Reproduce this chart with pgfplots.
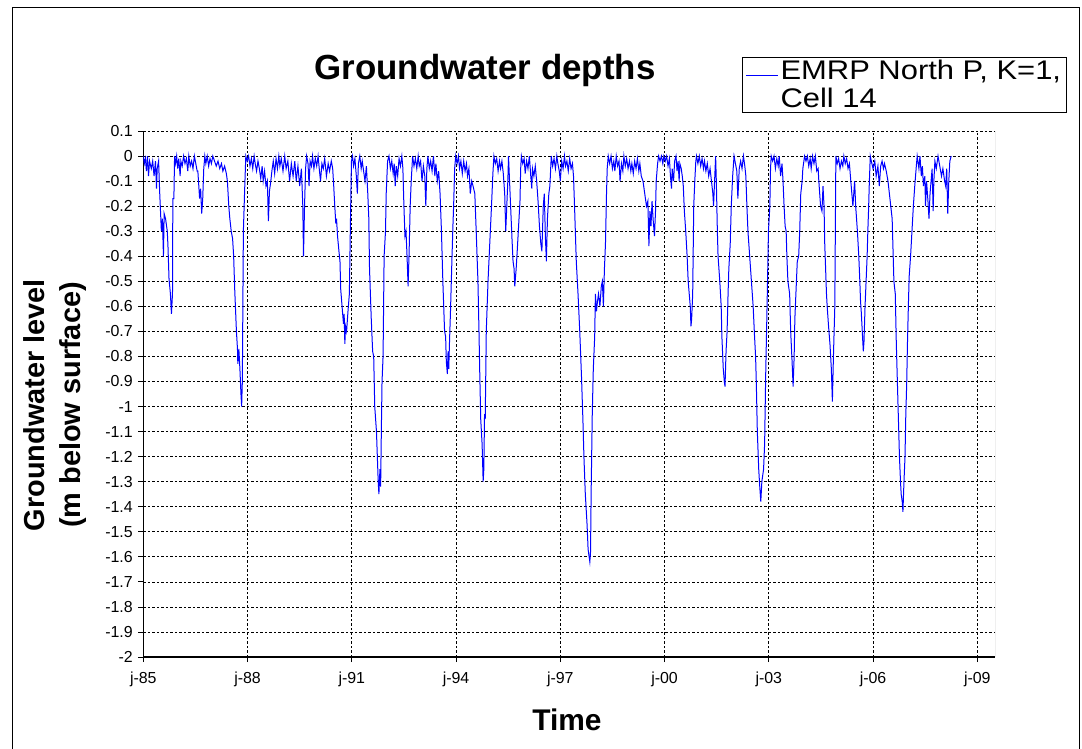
\documentclass[border=0pt]{standalone}
\usepackage{fontspec}
\setmainfont{Liberation Sans}
\usepackage{graphicx}
\usepackage{pgfplots}
\pgfplotsset{compat=1.18}

\pgfplotstableread{
year depth
1985.00 0
1985.03 -0.03
1985.06 -0.01
1985.09 -0.06
1985.12 0
1985.15 -0.08
1985.18 -0.02
1985.23 -0.05
1985.27 -0.02
1985.31 -0.08
1985.35 -0.02
1985.38 -0.13
1985.40 -0.05
1985.44 -0.02
1985.47 -0.14
1985.52 -0.30
1985.55 -0.25
1985.58 -0.40
1985.60 -0.23
1985.64 -0.25
1985.69 -0.30
1985.71 -0.36
1985.74 -0.49
1985.78 -0.55
1985.81 -0.63
1985.84 -0.55
1985.85 -0.17
1985.88 -0.17
1985.90 0
1985.93 -0.03
1985.96 0
1985.99 -0.05
1986.02 -0.01
1986.06 -0.08
1986.08 -0.02
1986.12 -0.04
1986.16 0
1986.20 -0.03
1986.24 -0.01
1986.28 -0.06
1986.31 0
1986.35 -0.04
1986.39 -0.02
1986.43 -0.05
1986.47 0
1986.51 -0.03
1986.55 -0.06
1986.57 -0.06
1986.62 -0.17
1986.65 -0.13
1986.68 -0.23
1986.71 -0.17
1986.74 -0.05
1986.77 0
1986.80 -0.03
1986.84 0
1986.88 -0.04
1986.92 -0.01
1986.96 -0.03
1987.00 0
1987.05 -0.02
1987.10 -0.04
1987.15 -0.02
1987.20 -0.05
1987.25 -0.03
1987.29 -0.06
1987.34 -0.04
1987.39 -0.07
1987.42 -0.10
1987.46 -0.20
1987.49 -0.25
1987.53 -0.30
1987.57 -0.33
1987.60 -0.40
1987.63 -0.53
1987.68 -0.70
1987.71 -0.77
1987.72 -0.83
1987.75 -0.77
1987.78 -0.85
1987.81 -0.95
1987.83 -1.00
1987.85 -0.90
1987.88 -0.30
1987.92 -0.12
1987.95 0
1987.99 -0.02
1988.03 0
1988.07 -0.04
1988.11 -0.01
1988.15 -0.05
1988.19 0
1988.22 -0.03
1988.26 -0.06
1988.30 -0.02
1988.34 -0.05
1988.38 -0.09
1988.42 -0.04
1988.45 -0.10
1988.49 -0.06
1988.53 -0.12
1988.57 -0.10
1988.60 -0.26
1988.63 -0.14
1988.67 -0.10
1988.70 -0.06
1988.74 -0.02
1988.78 -0.07
1988.82 -0.01
1988.86 -0.05
1988.90 0
1988.93 -0.04
1988.97 -0.01
1989.02 -0.06
1989.07 0
1989.11 -0.05
1989.16 -0.02
1989.21 -0.10
1989.26 -0.03
1989.31 -0.08
1989.36 -0.02
1989.40 -0.10
1989.45 -0.04
1989.50 -0.12
1989.55 -0.05
1989.59 -0.20
1989.61 -0.40
1989.64 -0.20
1989.67 -0.05
1989.70 0
1989.74 -0.03
1989.77 -0.12
1989.80 -0.02
1989.84 -0.04
1989.87 0
1989.91 -0.05
1989.95 -0.01
1989.99 -0.04
1990.03 0
1990.07 -0.06
1990.10 -0.10
1990.14 -0.03
1990.18 -0.05
1990.22 -0.01
1990.27 -0.08
1990.32 -0.03
1990.36 -0.06
1990.41 -0.02
1990.45 -0.05
1990.48 -0.12
1990.51 -0.20
1990.54 -0.27
1990.56 -0.25
1990.59 -0.32
1990.63 -0.38
1990.66 -0.42
1990.68 -0.53
1990.72 -0.60
1990.76 -0.67
1990.78 -0.63
1990.80 -0.75
1990.82 -0.68
1990.85 -0.70
1990.89 -0.62
1990.93 -0.55
1990.96 -0.27
1990.99 -0.02
1991.02 0
1991.05 -0.04
1991.09 -0.01
1991.13 -0.08
1991.16 -0.15
1991.19 -0.03
1991.23 0
1991.27 -0.05
1991.30 -0.02
1991.34 -0.06
1991.38 -0.10
1991.42 -0.04
1991.46 -0.15
1991.49 -0.25
1991.51 -0.45
1991.56 -0.65
1991.60 -0.78
1991.63 -0.80
1991.66 -1.00
1991.71 -1.10
1991.74 -1.22
1991.76 -1.30
1991.78 -1.35
1991.81 -1.25
1991.83 -1.32
1991.85 -1.10
1991.87 -0.90
1991.90 -0.80
1991.93 -0.40
1991.97 -0.30
1991.99 -0.15
1992.03 -0.02
1992.07 0
1992.11 -0.05
1992.15 -0.02
1992.19 -0.07
1992.22 -0.03
1992.25 -0.12
1992.28 -0.04
1992.32 -0.08
1992.36 -0.01
1992.40 -0.04
1992.44 0
1992.47 -0.05
1992.50 -0.20
1992.53 -0.32
1992.56 -0.30
1992.59 -0.40
1992.62 -0.52
1992.65 -0.38
1992.68 -0.20
1992.71 -0.10
1992.75 0
1992.79 -0.04
1992.83 -0.01
1992.87 -0.05
1992.91 0
1992.94 -0.04
1992.98 -0.02
1993.02 -0.10
1993.06 -0.04
1993.10 -0.08
1993.13 -0.20
1993.16 -0.05
1993.19 0
1993.23 -0.05
1993.27 -0.02
1993.31 -0.06
1993.35 0
1993.39 -0.08
1993.42 -0.03
1993.46 -0.10
1993.50 -0.06
1993.54 -0.15
1993.58 -0.30
1993.62 -0.50
1993.67 -0.70
1993.70 -0.72
1993.72 -0.82
1993.75 -0.87
1993.77 -0.78
1993.79 -0.85
1993.81 -0.75
1993.84 -0.62
1993.88 -0.42
1993.91 -0.28
1993.93 -0.20
1993.96 -0.05
1993.99 0
1994.03 -0.03
1994.07 0
1994.10 -0.05
1994.14 -0.02
1994.18 -0.07
1994.22 -0.02
1994.26 -0.06
1994.30 -0.03
1994.33 -0.08
1994.37 -0.05
1994.41 -0.15
1994.45 -0.10
1994.49 -0.12
1994.54 -0.15
1994.58 -0.30
1994.63 -0.50
1994.66 -0.70
1994.68 -0.85
1994.71 -1.05
1994.75 -1.15
1994.78 -1.30
1994.80 -1.25
1994.82 -1.03
1994.84 -1.05
1994.87 -0.70
1994.92 -0.50
1994.97 -0.35
1995.02 -0.20
1995.06 -0.07
1995.09 0
1995.13 -0.03
1995.17 -0.01
1995.21 -0.06
1995.25 -0.02
1995.28 -0.05
1995.32 -0.02
1995.36 -0.07
1995.40 -0.15
1995.43 -0.30
1995.46 -0.20
1995.49 -0.10
1995.51 0
1995.54 -0.10
1995.57 -0.20
1995.61 -0.33
1995.64 -0.42
1995.67 -0.45
1995.69 -0.52
1995.73 -0.45
1995.76 -0.38
1995.80 -0.28
1995.84 -0.18
1995.86 -0.05
1995.88 0
1995.92 -0.03
1995.96 -0.01
1995.99 -0.07
1996.03 -0.02
1996.07 -0.05
1996.11 0
1996.15 -0.08
1996.18 -0.13
1996.20 -0.05
1996.24 -0.08
1996.28 -0.04
1996.32 -0.10
1996.36 -0.18
1996.40 -0.28
1996.44 -0.35
1996.47 -0.38
1996.51 -0.20
1996.54 -0.15
1996.57 -0.32
1996.60 -0.42
1996.63 -0.25
1996.67 -0.15
1996.70 -0.12
1996.74 0
1996.78 -0.04
1996.82 -0.01
1996.86 -0.05
1996.90 0
1996.93 -0.03
1996.97 -0.06
1997.00 -0.10
1997.04 -0.02
1997.08 -0.05
1997.12 0
1997.15 -0.04
1997.19 -0.02
1997.23 -0.06
1997.27 -0.01
1997.31 -0.05
1997.35 -0.03
1997.38 -0.08
1997.41 -0.20
1997.46 -0.42
1997.51 -0.55
1997.56 -0.70
1997.61 -0.88
1997.65 -1.05
1997.68 -1.20
1997.72 -1.35
1997.77 -1.47
1997.80 -1.57
1997.83 -1.60
1997.85 -1.62
1997.87 -1.58
1997.89 -1.32
1997.92 -1.03
1997.95 -0.85
1997.99 -0.72
1998.01 -0.55
1998.04 -0.62
1998.07 -0.58
1998.10 -0.55
1998.14 -0.60
1998.18 -0.52
1998.21 -0.50
1998.24 -0.60
1998.27 -0.45
1998.30 -0.35
1998.33 -0.15
1998.35 -0.05
1998.38 0
1998.42 -0.03
1998.46 0
1998.50 -0.05
1998.54 -0.02
1998.57 -0.06
1998.61 0
1998.65 -0.04
1998.69 -0.02
1998.72 -0.10
1998.76 -0.03
1998.80 -0.06
1998.83 0
1998.87 -0.04
1998.91 -0.01
1998.95 -0.05
1998.99 -0.02
1999.03 -0.06
1999.06 -0.03
1999.10 -0.07
1999.14 -0.02
1999.18 -0.05
1999.22 -0.01
1999.26 -0.06
1999.29 -0.03
1999.33 -0.08
1999.38 -0.10
1999.43 -0.15
1999.48 -0.20
1999.52 -0.18
1999.55 -0.36
1999.58 -0.22
1999.61 -0.28
1999.64 -0.18
1999.67 -0.25
1999.71 -0.32
1999.74 -0.22
1999.76 -0.10
1999.80 -0.03
1999.83 0
1999.87 -0.02
1999.91 0
1999.95 -0.03
1999.98 0
2000.02 -0.02
2000.06 0
2000.10 -0.04
2000.14 -0.01
2000.17 -0.08
2000.20 -0.13
2000.22 -0.05
2000.26 -0.10
2000.29 -0.02
2000.33 0
2000.36 -0.06
2000.39 -0.02
2000.42 -0.10
2000.44 -0.03
2000.48 -0.05
2000.51 -0.08
2000.54 -0.12
2000.57 -0.22
2000.61 -0.30
2000.65 -0.40
2000.68 -0.50
2000.71 -0.55
2000.74 -0.60
2000.76 -0.68
2000.78 -0.65
2000.81 -0.55
2000.84 -0.20
2000.87 -0.10
2000.90 -0.02
2000.92 0
2000.96 -0.03
2001.00 0
2001.04 -0.04
2001.08 -0.01
2001.12 -0.05
2001.15 -0.02
2001.19 -0.06
2001.23 -0.03
2001.27 -0.08
2001.31 -0.05
2001.35 -0.10
2001.39 -0.15
2001.41 -0.20
2001.44 -0.10
2001.47 0
2001.49 -0.10
2001.52 -0.30
2001.54 -0.40
2001.59 -0.50
2001.63 -0.60
2001.65 -0.72
2001.69 -0.85
2001.72 -0.90
2001.74 -0.92
2001.77 -0.78
2001.80 -0.70
2001.83 -0.54
2001.85 -0.45
2001.89 -0.35
2001.92 -0.20
2001.96 -0.08
2002.00 0
2002.04 -0.03
2002.08 -0.06
2002.11 -0.17
2002.15 -0.05
2002.19 -0.02
2002.23 -0.05
2002.27 0
2002.31 -0.04
2002.34 -0.08
2002.37 -0.20
2002.40 -0.30
2002.45 -0.40
2002.50 -0.50
2002.55 -0.60
2002.59 -0.72
2002.62 -0.80
2002.64 -0.90
2002.67 -1.10
2002.71 -1.25
2002.74 -1.32
2002.77 -1.38
2002.80 -1.30
2002.82 -1.28
2002.85 -1.25
2002.88 -1.15
2002.91 -0.88
2002.95 -0.60
2002.99 -0.30
2003.03 -0.20
2003.05 -0.05
2003.07 0
2003.11 -0.02
2003.15 0
2003.19 -0.05
2003.23 -0.01
2003.27 -0.04
2003.30 0
2003.34 -0.08
2003.38 -0.03
2003.41 -0.10
2003.44 -0.20
2003.47 -0.28
2003.50 -0.30
2003.52 -0.40
2003.55 -0.50
2003.60 -0.55
2003.63 -0.70
2003.67 -0.82
2003.70 -0.92
2003.73 -0.80
2003.75 -0.65
2003.78 -0.55
2003.82 -0.42
2003.86 -0.40
2003.89 -0.30
2003.92 -0.15
2003.96 -0.10
2003.98 -0.05
2004.03 0
2004.07 -0.02
2004.11 0
2004.15 -0.04
2004.19 -0.01
2004.22 -0.05
2004.26 0
2004.30 -0.03
2004.34 0
2004.38 -0.06
2004.42 -0.05
2004.44 -0.10
2004.49 -0.20
2004.53 -0.22
2004.56 -0.12
2004.59 -0.20
2004.61 -0.35
2004.66 -0.55
2004.68 -0.60
2004.72 -0.68
2004.76 -0.75
2004.78 -0.80
2004.80 -0.85
2004.83 -0.98
2004.86 -0.80
2004.90 -0.60
2004.92 -0.20
2004.93 0
2004.97 -0.03
2005.01 -0.01
2005.05 -0.05
2005.09 -0.02
2005.13 -0.04
2005.16 0
2005.20 -0.03
2005.24 -0.01
2005.28 -0.05
2005.32 -0.03
2005.36 -0.10
2005.39 -0.15
2005.42 -0.20
2005.47 -0.10
2005.50 -0.20
2005.55 -0.30
2005.59 -0.40
2005.62 -0.50
2005.64 -0.58
2005.66 -0.62
2005.69 -0.70
2005.72 -0.78
2005.74 -0.74
2005.77 -0.60
2005.80 -0.50
2005.83 -0.40
2005.85 -0.30
2005.87 -0.22
2005.89 -0.12
2005.92 0
2005.95 -0.02
2006.00 -0.05
2006.05 -0.02
2006.09 -0.08
2006.14 -0.04
2006.18 -0.12
2006.22 -0.04
2006.26 -0.02
2006.30 -0.05
2006.33 -0.03
2006.38 -0.06
2006.43 -0.10
2006.47 -0.15
2006.51 -0.20
2006.55 -0.25
2006.57 -0.35
2006.60 -0.50
2006.64 -0.55
2006.67 -0.75
2006.70 -0.90
2006.73 -1.05
2006.76 -1.20
2006.79 -1.30
2006.81 -1.35
2006.84 -1.38
2006.86 -1.42
2006.89 -1.30
2006.92 -1.20
2006.94 -1.05
2006.97 -0.90
2006.99 -0.75
2007.02 -0.58
2007.04 -0.48
2007.08 -0.40
2007.12 -0.30
2007.16 -0.20
2007.20 -0.12
2007.24 -0.05
2007.27 0
2007.29 -0.02
2007.32 -0.05
2007.35 0
2007.39 -0.08
2007.42 -0.04
2007.45 -0.12
2007.49 -0.08
2007.51 -0.20
2007.54 -0.10
2007.58 -0.18
2007.61 -0.25
2007.64 -0.15
2007.67 -0.10
2007.70 -0.05
2007.73 -0.22
2007.75 -0.10
2007.78 -0.02
2007.82 -0.05
2007.87 0
2007.92 -0.04
2007.97 -0.08
2008.01 -0.05
2008.06 -0.10
2008.09 -0.12
2008.12 -0.05
2008.15 -0.23
2008.18 -0.10
2008.21 -0.02
2008.25 0
}\gwdata

\definecolor{lineblue}{RGB}{0,0,255}

\begin{document}
\begin{tikzpicture}[x=1bp,y=1bp]
% page frame in reference pixels (y downwards)
\useasboundingbox (0,0) rectangle (1082,-749);
\fill[white] (0,0) rectangle (1082,-749);
\draw[black, line width=1bp] (12,-8) rectangle (1079,-770);

\begin{axis}[
  name=ax,
  at={(143.3bp,-657bp)}, anchor=south west,
  scale only axis, width=851.7bp, height=526bp,
  xmin=1985, xmax=2009.51, ymin=-2, ymax=0.1,
  axis x line*=bottom, axis y line*=left,
  axis line style={black, line width=1.2bp},
  xtick={1985,1988,1991,1994,1997,2000,2003,2006,2009},
  xticklabels={j-85,j-88,j-91,j-94,j-97,j-00,j-03,j-06,j-09},
  ytick={-2,-1.9,-1.8,-1.7,-1.6,-1.5,-1.4,-1.3,-1.2,-1.1,-1,-0.9,-0.8,-0.7,-0.6,-0.5,-0.4,-0.3,-0.2,-0.1,0,0.1},
  yticklabels={-2,-1.9,-1.8,-1.7,-1.6,-1.5,-1.4,-1.3,-1.2,-1.1,-1,-0.9,-0.8,-0.7,-0.6,-0.5,-0.4,-0.3,-0.2,-0.1,0,0.1},
  tick align=outside, major tick length=5bp,
  tick style={black, line width=0.8bp},
  ticklabel style={font=\fontsize{16}{19}\selectfont},
  yticklabel style={xshift=-2bp},
  xticklabel style={yshift=-6bp},
  grid=major,
  major grid style={black, line width=0.7bp, dash pattern=on 2.5bp off 2bp},
  legend style={at={(0.703,1.141)}, anchor=north west, draw=black,
    line width=1bp, font=\fontsize{27}{28}\selectfont,
    inner xsep=3bp, inner ysep=1bp, cells={align=left}},
  legend cell align=left,
  legend image code/.code={\draw[#1] (0bp,9bp) -- (32bp,9bp);},
]
\addplot[lineblue, line width=1bp] table[x=year, y=depth] {\gwdata};
\addlegendentry{\scalebox{1.15}[1]{EMRP North P, K=1,}\\\scalebox{1.15}[1]{Cell 14}}
\draw[gray, line width=1bp] (rel axis cs:1,0) -- (rel axis cs:1,1);
\end{axis}

\node[font=\bfseries\fontsize{35}{42}\selectfont] at (485,-70) {Groundwater depths};
\node[font=\bfseries\fontsize{30}{36}\selectfont] at (567,-720) {Time};
\node[font=\bfseries\fontsize{29}{36}\selectfont, rotate=90, align=center] at (55,-405)
  {Groundwater level\\(m below surface)};
\end{tikzpicture}
\end{document}
